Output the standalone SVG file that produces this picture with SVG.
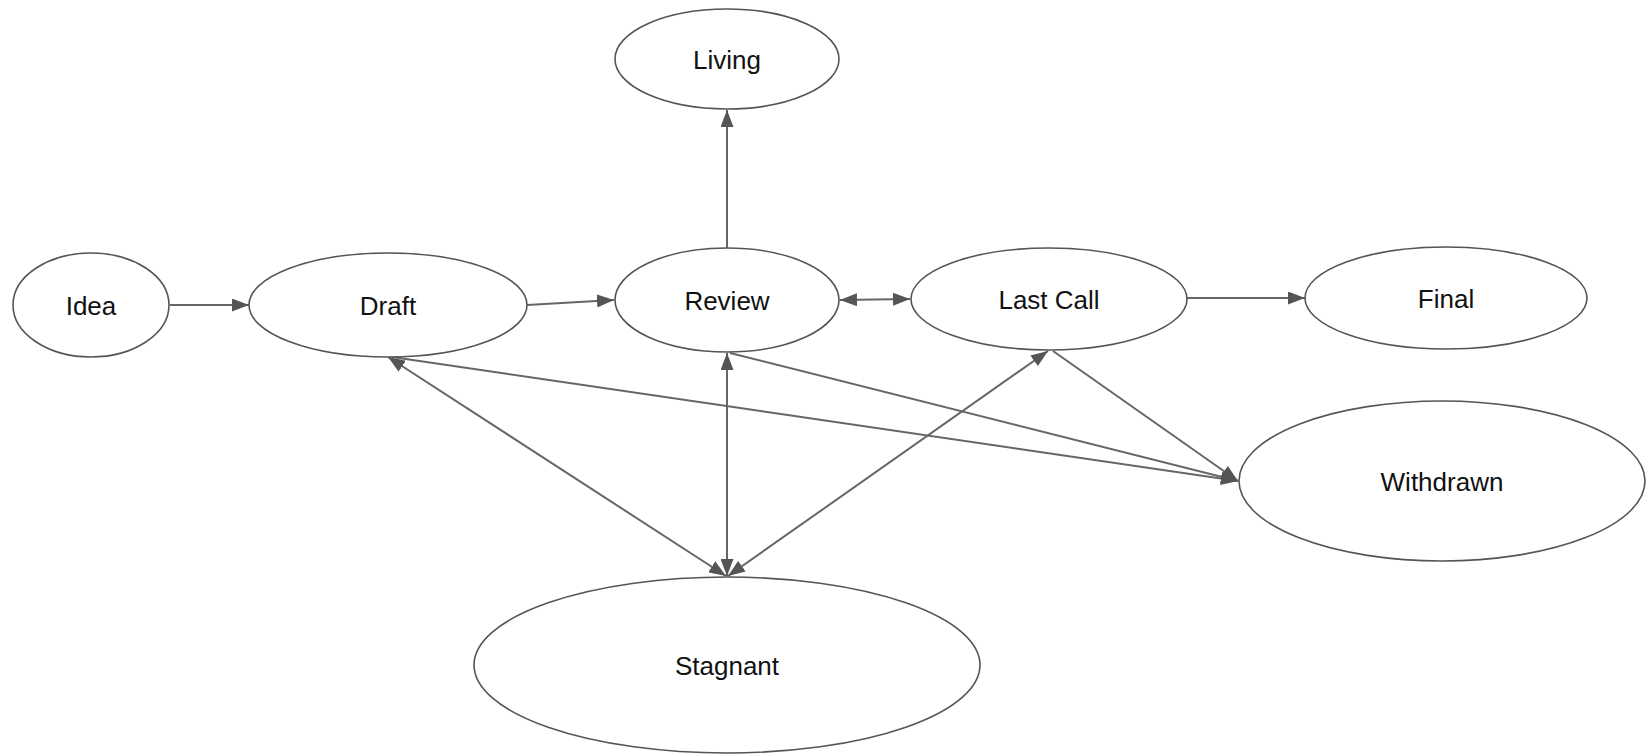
<svg xmlns="http://www.w3.org/2000/svg" width="1646" height="755" viewBox="0 0 1646 755">
<style>
.node ellipse{fill:#fff;stroke:#555;stroke-width:1.6}
.node text{font-family:"Liberation Sans",Arial,sans-serif;font-size:26px;fill:#111;text-anchor:middle;dominant-baseline:central}
.edges line{stroke:#666;stroke-width:2;fill:none}
</style>
<defs>
<marker id="ah" markerUnits="userSpaceOnUse" markerWidth="17" markerHeight="13" refX="17" refY="6.5" orient="auto-start-reverse" viewBox="0 0 17 13">
<path d="M0,0 L17,6.5 L0,13 z" fill="#555"/>
</marker>
</defs>
<rect width="1646" height="755" fill="#fff"/>
<g class="edges">
<line x1="170" y1="305" x2="249" y2="305" marker-end="url(#ah)"/>
<line x1="527" y1="305" x2="614" y2="300" marker-end="url(#ah)"/>
<line x1="840" y1="300" x2="910" y2="299" marker-start="url(#ah)" marker-end="url(#ah)"/>
<line x1="1187" y1="298" x2="1305" y2="298" marker-end="url(#ah)"/>
<line x1="727" y1="248" x2="727" y2="110" marker-end="url(#ah)"/>
<line x1="388" y1="357" x2="726" y2="576" marker-start="url(#ah)" marker-end="url(#ah)"/>
<line x1="727" y1="353" x2="727" y2="576" marker-start="url(#ah)" marker-end="url(#ah)"/>
<line x1="1048" y1="351" x2="728" y2="576" marker-start="url(#ah)" marker-end="url(#ah)"/>
<line x1="392" y1="357" x2="1238" y2="481" marker-end="url(#ah)"/>
<line x1="730" y1="353" x2="1238" y2="481" marker-end="url(#ah)"/>
<line x1="1053" y1="351" x2="1238" y2="481" marker-end="url(#ah)"/>
</g>
<g id="idea" class="node"><ellipse cx="91" cy="305" rx="78" ry="52"/><text x="91" y="306">Idea</text></g>
<g id="draft" class="node"><ellipse cx="388" cy="305" rx="139" ry="52"/><text x="388" y="306">Draft</text></g>
<g id="review" class="node"><ellipse cx="727" cy="300" rx="112" ry="52"/><text x="727" y="301">Review</text></g>
<g id="lastcall" class="node"><ellipse cx="1049" cy="299" rx="138" ry="51"/><text x="1049" y="300">Last Call</text></g>
<g id="final" class="node"><ellipse cx="1446" cy="298" rx="141" ry="51"/><text x="1446" y="299">Final</text></g>
<g id="living" class="node"><ellipse cx="727" cy="59" rx="112" ry="50"/><text x="727" y="60">Living</text></g>
<g id="withdrawn" class="node"><ellipse cx="1442" cy="481" rx="203" ry="80"/><text x="1442" y="482">Withdrawn</text></g>
<g id="stagnant" class="node"><ellipse cx="727" cy="665" rx="253" ry="88"/><text x="727" y="666">Stagnant</text></g>
</svg>
